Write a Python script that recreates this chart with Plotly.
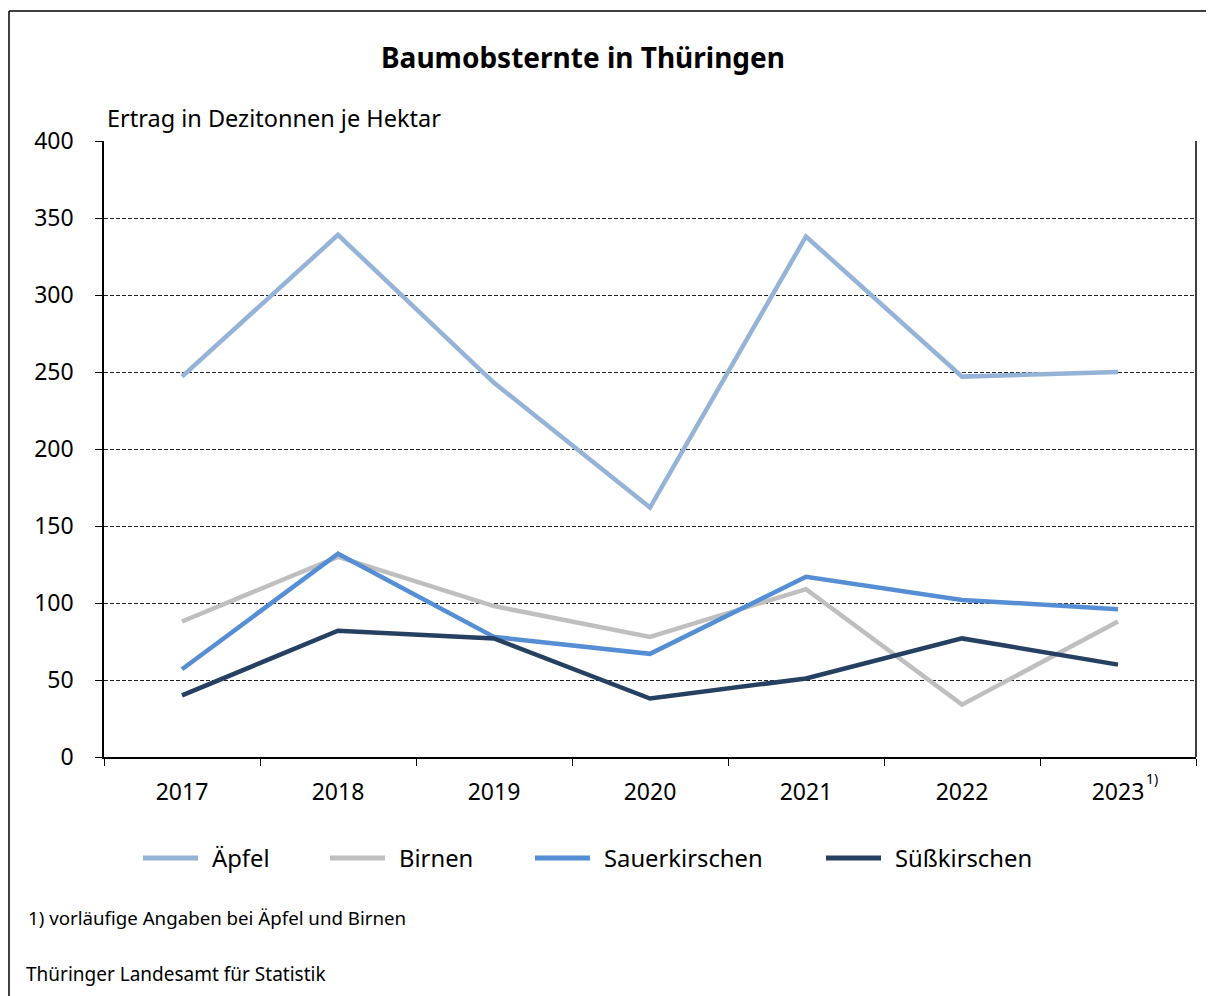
import plotly.graph_objects as go

years = ["2017", "2018", "2019", "2020", "2021", "2022", "2023"]
aepfel = [247, 339, 243, 162, 338, 247, 250]
birnen = [88, 130, 98, 78, 109, 34, 88]
sauerkirschen = [57, 132, 78, 67, 117, 102, 96]
suesskirschen = [40, 82, 77, 38, 51, 77, 60]

series_names = ["Äpfel", "Birnen", "Sauerkirschen", "Süßkirschen"]
series_values = [aepfel, birnen, sauerkirschen, suesskirschen]
colors = ["#95B3D7", "#BFBFBF", "#558ED5", "#254061"]

OFF = 8  # page body margin
W, H = 1214 - OFF, 996 - OFF
L, R, T, B = 104, 1196, 141, 757   # screen coords of plot area
FONT = "Noto Sans"

def px(x):
    return (x - L) / (R - L)

def py(y):
    return (B - y) / (B - T)

fig = go.Figure()
for name, vals, col in zip(series_names, series_values, colors):
    fig.add_trace(go.Scatter(x=years, y=vals, name=name, mode="lines",
                             line=dict(color=col, width=4.5), showlegend=False))

fig.update_layout(
    width=W, height=H,
    margin=dict(l=L - OFF, r=OFF + W - R, t=T - OFF, b=OFF + H - B),
    paper_bgcolor="white", plot_bgcolor="white",
    font=dict(family=FONT, size=23, color="black"),
    xaxis=dict(type="category", range=[-0.5, 6.5], tickson="boundaries",
               ticks="outside", ticklen=7, tickcolor="black", tickwidth=1,
               showline=True, linecolor="black", linewidth=1.5,
               showgrid=False, ticklabelstandoff=14,
               tickfont=dict(size=23)),
    yaxis=dict(range=[0, 400], tickvals=[0, 50, 100, 150, 200, 250, 300, 350, 400],
               ticks="outside", ticklen=7, tickcolor="black",
               showline=True, linecolor="black", linewidth=1.5,
               showgrid=True, gridcolor="#222222", gridwidth=1, griddash="4px,2px",
               zeroline=False, ticklabelstandoff=17,
               tickfont=dict(size=23)),
)

shapes = []
# outer border (top and left edges; right/bottom lie outside the picture)
shapes.append(dict(type="line", xref="paper", yref="paper",
                   x0=px(9), x1=px(1214), y0=py(11), y1=py(11),
                   line=dict(color="black", width=1.5), layer="below"))
shapes.append(dict(type="line", xref="paper", yref="paper",
                   x0=px(9), x1=px(9), y0=py(11), y1=py(996),
                   line=dict(color="black", width=1.5), layer="below"))
# right plot edge
shapes.append(dict(type="line", xref="paper", yref="paper",
                   x0=1, x1=1, y0=0, y1=1, line=dict(color="black", width=1.5)))

annotations = [
    dict(text="<b>Baumobsternte in Thüringen</b>", x=px(583), y=py(57),
         xref="paper", yref="paper", showarrow=False, font=dict(size=28),
         xanchor="center", yanchor="middle"),
    dict(text="Ertrag in Dezitonnen je Hektar", x=px(105), y=py(118),
         xref="paper", yref="paper", showarrow=False, font=dict(size=23.5),
         xanchor="left", yanchor="middle"),
    dict(text="1)", x=px(1144), y=py(778), xref="paper", yref="paper",
         showarrow=False, font=dict(size=14), xanchor="left", yanchor="middle"),
    dict(text="1) vorläufige Angaben bei Äpfel und Birnen", x=px(26), y=py(918),
         xref="paper", yref="paper", showarrow=False, font=dict(size=18.7),
         xanchor="left", yanchor="middle"),
    dict(text="Thüringer Landesamt für Statistik", x=px(24), y=py(974),
         xref="paper", yref="paper", showarrow=False, font=dict(size=19),
         xanchor="left", yanchor="middle"),
]

# manual legend
leg_x = [143, 330, 535, 826]
leg_y = 858
for name, col, lx in zip(series_names, colors, leg_x):
    shapes.append(dict(type="line", xref="paper", yref="paper",
                       x0=px(lx), x1=px(lx + 55), y0=py(leg_y), y1=py(leg_y),
                       line=dict(color=col, width=5)))
    annotations.append(dict(text=name, x=px(lx + 67), y=py(leg_y), xref="paper",
                            yref="paper", showarrow=False, font=dict(size=23.8),
                            xanchor="left", yanchor="middle"))

fig.update_layout(shapes=shapes, annotations=annotations)
fig.write_html("out.html")
